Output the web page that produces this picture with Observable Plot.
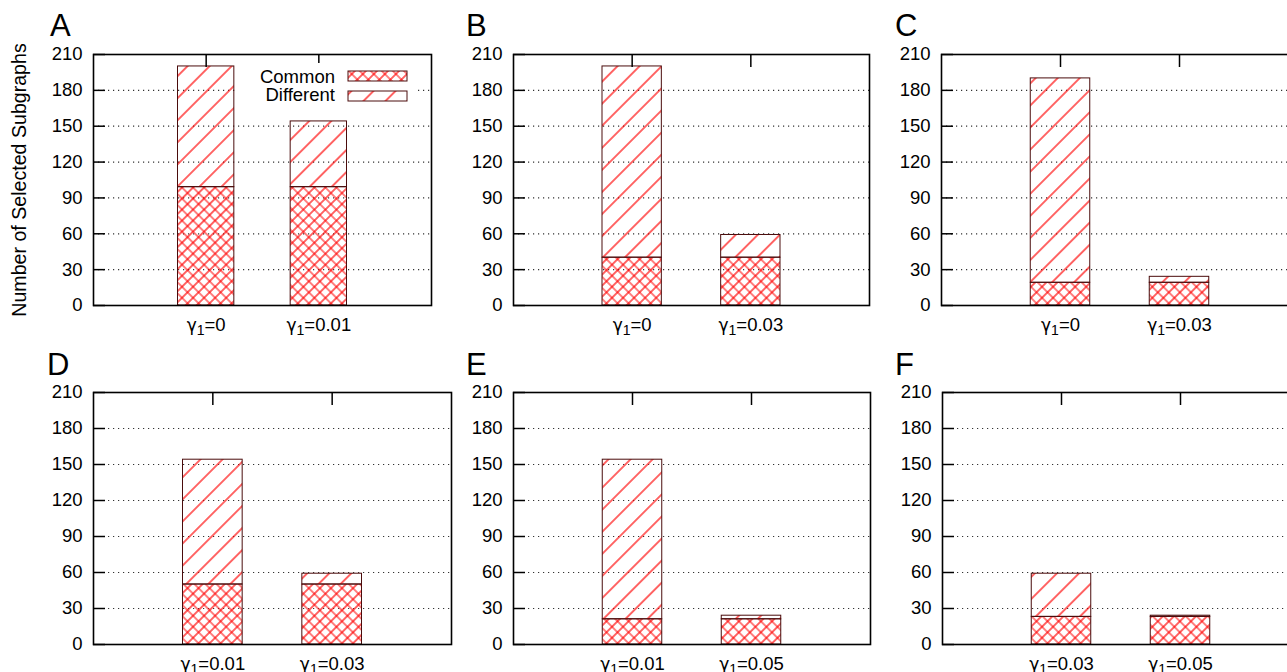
<!DOCTYPE html>
<html><head><meta charset="utf-8">
<script src="https://cdn.jsdelivr.net/npm/d3@7"></script>
<script src="https://cdn.jsdelivr.net/npm/@observablehq/plot@0.6"></script>
<style>
html,body{margin:0;padding:0;background:#fff;width:1287px;height:672px;overflow:hidden;font-family:"Liberation Sans",Arial,sans-serif;}
#root{position:relative;width:1287px;height:672px;overflow:hidden;}
.panel{position:absolute;}
.letter{position:absolute;font-size:31px;line-height:31px;color:#000;}
#legend{position:absolute;background:#fff;}
#legend .lt{position:absolute;font-size:18.5px;line-height:18.5px;text-align:right;white-space:nowrap;color:#000;}
</style></head><body>
<svg width="0" height="0" style="position:absolute">
  <defs>
    <pattern id="cross" patternUnits="userSpaceOnUse" width="7.8" height="7.8" patternTransform="rotate(45)">
      <path d="M3.9,0V7.8M0,3.9H7.8" stroke="#ff0000" stroke-width="1.2"/>
    </pattern>
    <pattern id="diag" patternUnits="userSpaceOnUse" width="15.6" height="15.6" patternTransform="rotate(45)">
      <path d="M7.8,0V15.6" stroke="#ff0000" stroke-width="1.2"/>
    </pattern>
  </defs>
</svg>
<div id="root"></div>
<script>
// ---- data ----
const yTicks = [0, 30, 60, 90, 120, 150, 180, 210];
const panelLetters = ["A", "B", "C", "D", "E", "F"];
const yLabel = "Number of Selected Subgraphs";
const legendLabels = ["Common", "Different"];

const catsA = ["γ1=0", "γ1=0.01"];
const commonA = [99, 99];
const diffA = [101, 55];

const catsB = ["γ1=0", "γ1=0.03"];
const commonB = [40, 40];
const diffB = [160, 19];

const catsC = ["γ1=0", "γ1=0.03"];
const commonC = [19, 19];
const diffC = [171, 5];

const catsD = ["γ1=0.01", "γ1=0.03"];
const commonD = [50, 50];
const diffD = [104, 9];

const catsE = ["γ1=0.01", "γ1=0.05"];
const commonE = [21, 21];
const diffE = [133, 3];

const catsF = ["γ1=0.03", "γ1=0.05"];
const commonF = [23, 23];
const diffF = [36, 1];

// ---- layout ----
const OUT = "#4a0c0c";
const layout = [
  {cats: catsA, common: commonA, diff: diffA, left: 0,   top: 0,   width: 434, height: 340, mt: 54, mb: 35, ml: 93, mr: 3, ylabel: true,  lx: 50,  ly: 9.7},
  {cats: catsB, common: commonB, diff: diffB, left: 430, top: 0,   width: 442, height: 340, mt: 54, mb: 35, ml: 83, mr: 3, ylabel: false, lx: 466, ly: 9.7},
  {cats: catsC, common: commonC, diff: diffC, left: 860, top: 0,   width: 441, height: 340, mt: 54, mb: 35, ml: 81, mr: 3, ylabel: false, lx: 895, ly: 9.7},
  {cats: catsD, common: commonD, diff: diffD, left: 0,   top: 340, width: 454, height: 332, mt: 52, mb: 28, ml: 93, mr: 3, ylabel: false, lx: 47,  ly: 348.7},
  {cats: catsE, common: commonE, diff: diffE, left: 430, top: 340, width: 443, height: 332, mt: 52, mb: 28, ml: 83, mr: 3, ylabel: false, lx: 466, ly: 348.7},
  {cats: catsF, common: commonF, diff: diffF, left: 860, top: 340, width: 442, height: 332, mt: 52, mb: 28, ml: 82, mr: 3, ylabel: false, lx: 895, ly: 348.7}
];

const root = document.getElementById("root");
const NS = "http://www.w3.org/2000/svg";

function subscriptify(svg) {
  svg.querySelectorAll('g[aria-label="x-axis tick label"] text').forEach(t => {
    const s = t.textContent;
    if (!s.startsWith("γ1")) return;
    t.textContent = "";
    const a = document.createElementNS(NS, "tspan"); a.textContent = "γ";
    a.setAttribute("font-family", "'DejaVu Sans', sans-serif"); a.setAttribute("font-size", "17px"); t.appendChild(a);
    const b = document.createElementNS(NS, "tspan"); b.textContent = "1";
    b.setAttribute("dy", "4"); b.setAttribute("font-size", "14px"); t.appendChild(b);
    const c = document.createElementNS(NS, "tspan"); c.textContent = s.slice(2);
    c.setAttribute("dy", "-4"); t.appendChild(c);
  });
  svg.querySelectorAll('g[aria-label="y-axis label"] text').forEach(t => {
    t.setAttribute("font-size", "19.6px");
  });
}

layout.forEach((cfg, k) => {
  const rows = cfg.cats.map((c, i) => ({i, cat: c, common: cfg.common[i], total: cfg.common[i] + cfg.diff[i]}));
  const svg = Plot.plot({
    width: cfg.width, height: cfg.height,
    marginTop: cfg.mt, marginBottom: cfg.mb, marginLeft: cfg.ml, marginRight: cfg.mr,
    style: {background: "transparent", fontFamily: "'Liberation Sans', Arial, sans-serif", fontSize: "18.5px", overflow: "visible", color: "black"},
    x: {domain: [-1, 2], label: null},
    y: {domain: [0, 210], label: null},
    marks: [
      Plot.gridY(yTicks, {stroke: "#333", strokeOpacity: 1, strokeDasharray: "1.2,3.8", strokeWidth: 1.2}),
      Plot.rect(rows, {x1: d => d.i - 0.25, x2: d => d.i + 0.25, y1: 0, y2: "common", fill: "url(#cross)", stroke: OUT, strokeWidth: 1}),
      Plot.rect(rows, {x1: d => d.i - 0.25, x2: d => d.i + 0.25, y1: "common", y2: "total", fill: "url(#diag)", stroke: OUT, strokeWidth: 1}),
      Plot.axisY({ticks: yTicks, tickSize: -12, tickPadding: 23, strokeWidth: 1.5,
        label: cfg.ylabel ? yLabel : null, labelAnchor: "center", labelArrow: "none", labelOffset: 81}),
      Plot.axisX({anchor: "bottom", ticks: [0, 1], tickSize: 0, tickPadding: 12, tickFormat: i => cfg.cats[i], label: null}),
      Plot.axisX({anchor: "top", ticks: [0, 1], tickSize: -12, tickFormat: () => "", label: null, strokeWidth: 1.5}),
      Plot.frame({stroke: "black", strokeWidth: 1.6})
    ]
  });
  svg.classList.add("panel");
  svg.style.left = cfg.left + "px";
  svg.style.top = cfg.top + "px";
  svg.style.maxWidth = "none";
  subscriptify(svg);
  root.appendChild(svg);

  const L = document.createElement("div");
  L.className = "letter";
  L.textContent = panelLetters[k];
  L.style.left = cfg.lx + "px";
  L.style.top = cfg.ly + "px";
  root.appendChild(L);
});

// legend (panel A)
const leg = document.createElement("div");
leg.id = "legend";
leg.style.left = "236px"; leg.style.top = "63px"; leg.style.width = "182px"; leg.style.height = "42px";
const fills = ["url(#cross)", "url(#diag)"];
legendLabels.forEach((lab, j) => {
  const t = document.createElement("div");
  t.className = "lt";
  t.textContent = lab;
  t.style.right = (418 - 335) + "px";
  t.style.top = (j === 0 ? 67.6 - 63 : 86 - 63) + "px";
  leg.appendChild(t);
});
const sw = document.createElementNS(NS, "svg");
sw.setAttribute("width", 182); sw.setAttribute("height", 42);
sw.style.position = "absolute"; sw.style.left = "0"; sw.style.top = "0";
legendLabels.forEach((lab, j) => {
  const r = document.createElementNS(NS, "rect");
  r.setAttribute("x", 348 - 236); r.setAttribute("y", (j === 0 ? 71 : 91) - 63);
  r.setAttribute("width", 59); r.setAttribute("height", 10);
  r.setAttribute("fill", fills[j]); r.setAttribute("stroke", OUT); r.setAttribute("stroke-width", 1);
  sw.appendChild(r);
});
leg.appendChild(sw);
root.appendChild(leg);
</script>
</body></html>
